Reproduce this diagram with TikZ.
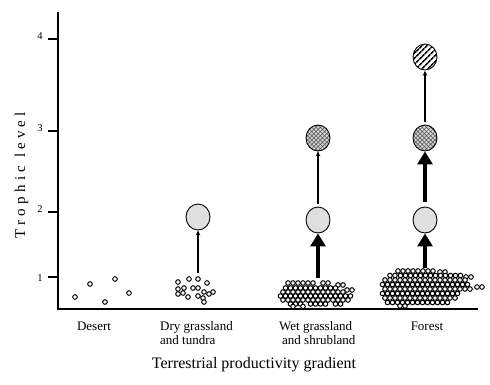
\documentclass[tikz,border=0pt]{standalone}
\usepackage{fontspec}
\setmainfont{Liberation Serif}
\usetikzlibrary{arrows.meta,shapes.geometric,patterns.meta}
\begin{document}
\begin{tikzpicture}[x=1pt,y=-1pt,
  axisline/.style={line width=2pt},
  tickline/.style={line width=2pt},
  dotc/.style={draw, line width=1pt, fill=white},
  blob/.style={ellipse, draw, line width=0.9pt, minimum width=24pt, minimum height=26pt, inner sep=0pt},
  lvltwo/.style={blob, fill=gray!25},
  lvlthree/.style={blob, preaction={fill=gray!30}, pattern={Hatch[angle=45,distance=3pt,line width=0.6pt]}, pattern color=gray!70!black},
  lvlfour/.style={blob, preaction={fill=white}, pattern={Lines[angle=45,distance=4pt,line width=1.6pt]}, pattern color=black},
  thinarrow/.style={line width=1.3pt, -{Stealth[length=5pt,width=4.5pt]}},
  thickarrow/.style={line width=4.5pt, -{Triangle[length=13pt,width=15pt]}},
  catlabel/.style={font=\fontsize{13}{15}\selectfont, inner sep=0pt},
  ticklabel/.style={font=\fontsize{10.5}{12}\selectfont, inner sep=0pt}
]
\useasboundingbox (0,0) rectangle (490,384);

% axes
\coordinate (top) at (58,12);
\coordinate (origin) at (58,309);
\coordinate (right) at (478,309);
\draw[axisline] (top) -- (origin) -- (right);

% ticks and labels
\foreach \t/\yy/\ly in {4/39/36, 3/131/128, 2/212/209, 1/277/278} {
  \coordinate (tk\t) at (58,\yy);
  \coordinate (tl\t) at (48,\yy);
  \draw[tickline] (tl\t) -- (tk\t);
  \node[ticklabel] (n\t) at (40,\ly) {\t};
}

% y label
\node[rotate=90, anchor=base, inner sep=0pt, font=\fontsize{15}{17}\selectfont\addfontfeatures{LetterSpace=28}] (ylab) at (25,175) {Trophic level};

% desert dots
\foreach \xx/\yy in {75/297, 90/284, 105/302, 115/279, 129/293}
  \draw[dotc] (\xx,\yy) circle[radius=2.3pt];

% dry grassland dots
\foreach \xx/\yy in {178/282, 189/279, 198/279, 207/283, 178/289, 184/288, 193/288, 198/288, 204/292, 213/292, 178/294, 188/297, 198/296, 203/298, 209/294, 204/302, 183/293}
  \draw[dotc] (\xx,\yy) circle[radius=2.3pt];

% wet grassland dots
\foreach \yy/\xa/\xs/\xb in {283/288/293/313, 283/323/328/328, 285/338/343/338,
  288/285.5/290.5/335.5, 290/347/352/347,
  292/283/288/343,
  296/280.5/285.5/350.5,
  300/283/288/348,
  304/290.5/295.5/300.5, 304/310.5/315.5/325.5, 304/335.5/340.5/340.5,
  306.5/293/303/303}
  \foreach \xx in {\xa,\xs,...,\xb}
    \draw[dotc] (\xx,\yy) circle[radius=2.3pt];

% forest dots
\foreach \yy/\xa/\xs/\xb in {271/398/403/433, 272/440/445/440,
  275.5/390/395/390, 275.5/400.5/405.5/460.5, 277/466/471/466,
  280/385/390/465,
  284.5/382.5/387.5/467.5, 287/477/482/477,
  289/385/390/470,
  293.5/382.5/387.5/457.5,
  298/385/390/455,
  302.5/387.5/392.5/447.5,
  306/400/405/400}
  \foreach \xx in {\xa,\xs,...,\xb}
    \draw[dotc] (\xx,\yy) circle[radius=2.3pt];

% trophic nodes
\node[lvltwo] (d2) at (198,217) {};
\node[lvltwo] (w2) at (318,220) {};
\node[lvlthree] (w3) at (318,138) {};
\node[lvltwo] (f2) at (425,220) {};
\node[lvlthree] (f3) at (425,138) {};
\node[lvlfour] (f4) at (425,57) {};

% arrows
\coordinate (dbase) at (198,273);
\coordinate (wbase) at (318,278);
\coordinate (fbase) at (425,268);
\draw[thinarrow] (dbase) -- (d2.south);
\draw[thickarrow] (wbase) -- (w2.south);
\draw[thinarrow] ([yshift=3pt]w2.north) -- (w3.south);
\draw[thickarrow] (fbase) -- (f2.south);
\draw[thickarrow] ([yshift=5pt]f2.north) -- (f3.south);
\draw[thinarrow] ([yshift=3pt]f3.north) -- (f4.south);

% category labels
\node[catlabel, anchor=base] (desert) at (94,330) {Desert};
\node[catlabel, anchor=base west] (dry1) at (160,330) {Dry grassland};
\node[catlabel, anchor=base west] (dry2) at (160,344.5) {and tundra};
\node[catlabel, anchor=base west] (wet1) at (279,330) {Wet grassland};
\node[catlabel, anchor=base west] (wet2) at (282,344.5) {and shrubland};
\node[catlabel, anchor=base] (forest) at (427,330) {Forest};

\node[anchor=base, inner sep=0pt, font=\fontsize{16}{18}\selectfont] (xlab) at (254,368) {Terrestrial productivity gradient};
\end{tikzpicture}
\end{document}
